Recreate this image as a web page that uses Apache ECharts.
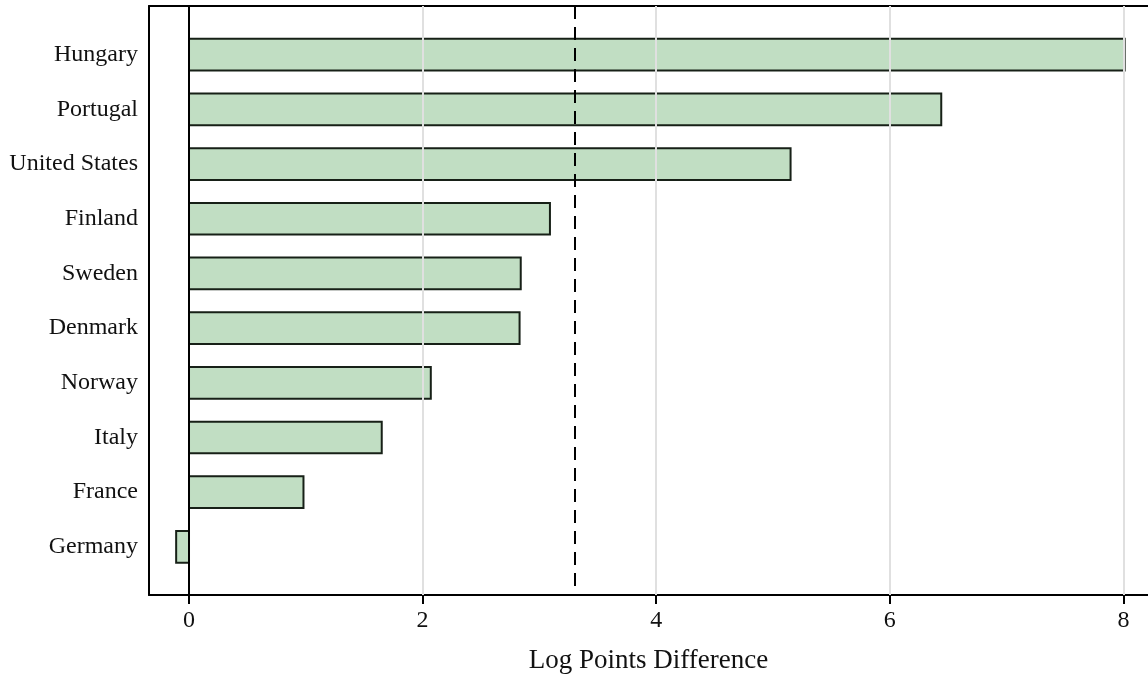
<!DOCTYPE html>
<html>
<head>
<meta charset="utf-8">
<script src="https://cdn.jsdelivr.net/npm/echarts@6/dist/echarts.min.js"></script>
<style>
html,body{margin:0;padding:0;background:#fff;}
#chart{width:1148px;height:679px;}
</style>
</head>
<body>
<div id="chart"></div>
<script>
const categories = ['Hungary','Portugal','United States','Finland','Sweden','Denmark','Norway','Italy','France','Germany'];
const values = [8.01, 6.44, 5.15, 3.09, 2.84, 2.83, 2.07, 1.65, 0.98, -0.11];
const xTicks = [0, 2, 4, 6, 8];
const referenceLine = 3.30;
const xTitle = 'Log Points Difference';

const FONT = '"Liberation Serif", "DejaVu Serif", serif';
const chart = echarts.init(document.getElementById('chart'), null, {renderer: 'canvas'});

const catIdx = categories.map((c, i) => i);
const X_MIN = -0.3425, X_MAX = 8.21;

chart.setOption({
  animation: false,
  backgroundColor: '#fff',
  grid: {left: 149, top: 6, right: 0, bottom: 80, show: false},
  xAxis: [{
    type: 'value', min: X_MIN, max: X_MAX, position: 'bottom',
    name: xTitle, nameLocation: 'middle', nameGap: 52,
    nameTextStyle: {fontFamily: FONT, fontSize: 27, color: '#111'},
    axisLine: {show: true, onZero: false, lineStyle: {color: '#000', width: 2}},
    axisTick: {show: true, customValues: xTicks, length: 9, inside: false, lineStyle: {color: '#000', width: 2}},
    axisLabel: {customValues: xTicks, fontFamily: FONT, fontSize: 24, color: '#111', margin: 14},
    splitLine: {show: false}
  }, {
    type: 'value', min: X_MIN, max: X_MAX, position: 'top',
    axisLine: {show: true, onZero: false, lineStyle: {color: '#000', width: 2}},
    axisTick: {show: false}, axisLabel: {show: false}, splitLine: {show: false}
  }],
  yAxis: {
    type: 'value', inverse: true, min: -0.89, max: 9.88,
    axisLine: {show: true, onZero: false, lineStyle: {color: '#000', width: 2}},
    axisTick: {show: false, customValues: catIdx},
    axisLabel: {customValues: catIdx, formatter: v => categories[Math.round(v)], fontFamily: FONT, fontSize: 24, color: '#111', margin: 11},
    splitLine: {show: false}
  },
  series: [
    {
      type: 'line', data: [], z: 1, silent: true,
      markLine: {
        silent: true, symbol: 'none', animation: false,
        label: {show: false},
        data: xTicks.filter(t => t !== 0).map(t => ({xAxis: t, lineStyle: {color: '#e0e0e0', width: 2, type: 'solid'}}))
          .concat([{xAxis: referenceLine, lineStyle: {color: '#000', width: 2, type: [13, 8]}}])
      }
    },
    {
      type: 'custom', z: 2,
      data: values.map((v, i) => [v, i]),
      encode: {x: 0, y: 1},
      renderItem: function (params, api) {
        const v = api.value(0), i = api.value(1);
        const p0 = api.coord([0, i]);
        const p1 = api.coord([v, i]);
        const h = api.size([0, 1])[1] * 0.58;
        return {
          type: 'rect',
          shape: {x: Math.min(p0[0], p1[0]), y: p0[1] - h / 2, width: Math.abs(p1[0] - p0[0]), height: h},
          style: {fill: '#c1dec3', stroke: '#172017', lineWidth: 2}
        };
      }
    },
    {
      type: 'line', data: [], z: 3, silent: true,
      markLine: {
        silent: true, symbol: 'none', animation: false,
        label: {show: false},
        data: [{xAxis: 0, lineStyle: {color: '#000', width: 2, type: 'solid'}}]
      }
    }
  ]
});
</script>
</body>
</html>
